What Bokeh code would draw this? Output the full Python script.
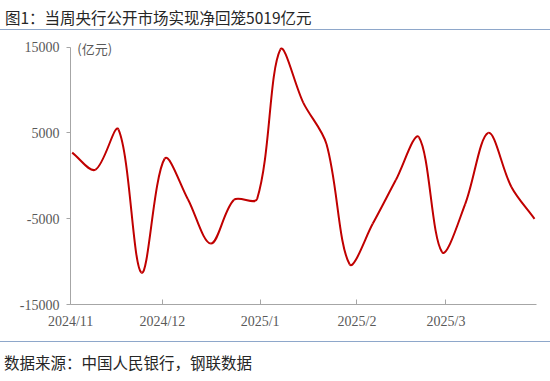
import numpy as np
from bokeh.plotting import figure
from bokeh.models import Div, Label, FixedTicker, Range1d
from bokeh.layouts import column
from bokeh.embed import file_html
from bokeh.resources import INLINE

# ---- data (weekly net injection, 亿元) ----
net_injection = [2700, 700, 5400, -11300, 2000, -2700, -7900, -2800, -2700, 14700,
                 8500, 3700, -10300, -5600, -500, 4500, -8900, -3300, 5000, -1300, -5019]
month_labels = ["2024/11", "2024/12", "2025/1", "2025/2", "2025/3"]
month_tick_idx = [-0.07, 3.9, 8.13, 12.32, 16.17]
y_ticks = [-15000, -5000, 5000, 15000]
y_tick_labels = ["-15000", "-5000", "5000", "15000"]
title_text = "图1：当周央行公开市场实现净回笼5019亿元"
source_text = "数据来源：中国人民银行，钢联数据"
unit_text = "(亿元)"

CJK = "Noto Sans CJK SC"
SERIF = "Liberation Serif"
GRAY = "#A6A6A6"
LABEL = "#595959"
RULE = "#8EA7CA"

W, H = 550, 311
BL, BR, BT, BB = 70, 14, 8, 37
n = len(net_injection)
XR = (-0.073, n - 1 + 0.086)
YR = (-15000, 16000)
Y_AXIS_BOUNDS = (-15000, 15000)

x = np.arange(n, dtype=float)
y = np.array(net_injection, dtype=float)

# Excel-like smoothed curve: bezier segments, tangents weighted by screen distances
sx = (W - BL - BR) / (XR[1] - XR[0])
sy = (H - BT - BB) / (YR[1] - YR[0])
xp = np.concatenate([[x[0]], x, [x[-1]]])
yp = np.concatenate([[y[0]], y, [y[-1]]])
seg = np.hypot(np.diff(xp) * sx, np.diff(yp) * sy)
f = 1.0 / 3.0
X0, Y0, X1, Y1, CX0, CY0, CX1, CY1 = ([] for _ in range(8))
for i in range(n - 1):
    j = i + 1
    d_prev, d_cur, d_next = seg[j - 1], seg[j], seg[j + 1]
    w0 = d_cur / (d_prev + d_cur) if (d_prev + d_cur) > 0 else 0
    w1 = d_cur / (d_cur + d_next) if (d_cur + d_next) > 0 else 0
    X0.append(xp[j]); Y0.append(yp[j]); X1.append(xp[j + 1]); Y1.append(yp[j + 1])
    CX0.append(xp[j] + (xp[j + 1] - xp[j - 1]) * f * w0)
    CY0.append(yp[j] + (yp[j + 1] - yp[j - 1]) * f * w0)
    CX1.append(xp[j + 1] - (xp[j + 2] - xp[j]) * f * w1)
    CY1.append(yp[j + 1] - (yp[j + 2] - yp[j]) * f * w1)

p = figure(width=W, height=H, output_backend="svg", toolbar_location=None,
           x_range=Range1d(*XR), y_range=Range1d(*YR),
           min_border_left=BL, min_border_right=BR, min_border_top=BT, min_border_bottom=BB)
p.outline_line_color = None
p.xgrid.visible = False
p.ygrid.visible = False
p.background_fill_color = "white"
p.border_fill_color = "white"

p.bezier(x0=X0, y0=Y0, x1=X1, y1=Y1, cx0=CX0, cy0=CY0, cx1=CX1, cy1=CY1,
         line_color="#C00000", line_width=2)

# axes
xa = p.xaxis[0]
xa.ticker = FixedTicker(ticks=month_tick_idx)
xa.major_label_overrides = {t: l for t, l in zip(month_tick_idx, month_labels)}
xa.axis_line_color = GRAY
xa.major_tick_line_color = GRAY
xa.major_tick_in = 5
xa.major_tick_out = 0
xa.minor_tick_line_color = None
xa.major_label_text_font = SERIF
xa.major_label_text_font_size = "14px"
xa.major_label_text_color = LABEL
xa.major_label_standoff = 9

ya = p.yaxis[0]
ya.ticker = FixedTicker(ticks=y_ticks)
ya.bounds = Y_AXIS_BOUNDS
ya.major_label_overrides = {t: l for t, l in zip(y_ticks, y_tick_labels)}
ya.axis_line_color = GRAY
ya.major_tick_line_color = GRAY
ya.major_tick_in = 0
ya.major_tick_out = 4
ya.minor_tick_line_color = None
ya.major_label_text_font = SERIF
ya.major_label_text_font_size = "14px"
ya.major_label_text_color = LABEL
ya.major_label_standoff = 7

p.add_layout(Label(x=0.22, y=14800, text=unit_text, text_font=CJK, text_font_size="13px",
                   text_color=LABEL, text_baseline="middle", text_align="left"))

title_div = Div(text=title_text, width=W, height=30, margin=0,
                styles={"font-family": CJK, "font-size": "15.5px", "color": "#262626",
                        "line-height": "20px", "border-bottom": "1.5px solid " + RULE,
                        "box-sizing": "border-box", "padding-left": "5px", "padding-top": "7px"})
footer_div = Div(text=source_text, width=W, height=40, margin=0,
                 styles={"font-family": CJK, "font-size": "15.5px", "color": "#262626",
                         "line-height": "20px", "border-top": "1.5px solid " + RULE,
                         "box-sizing": "border-box", "padding-top": "10px", "padding-left": "4px"})

layout = column(title_div, p, footer_div, spacing=0)
open("out.html", "w").write(file_html(layout, INLINE))
